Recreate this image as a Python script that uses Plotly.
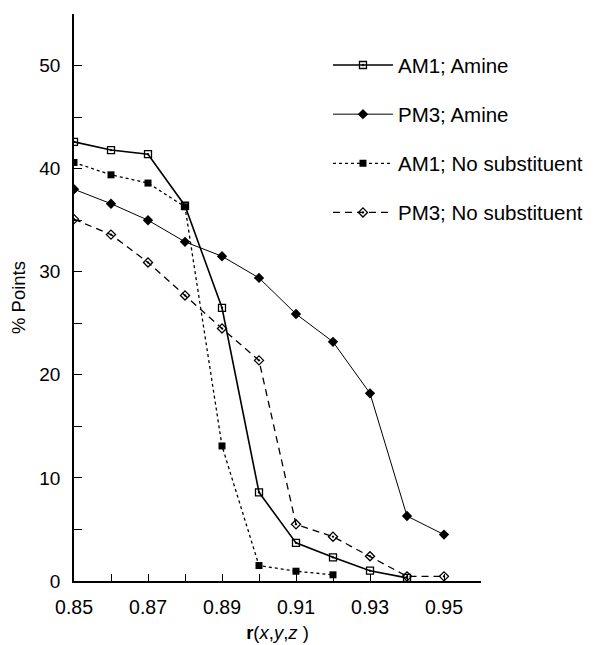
import plotly.graph_objects as go

r_vals = [0.85, 0.86, 0.87, 0.88, 0.89, 0.90, 0.91, 0.92, 0.93, 0.94, 0.95]

am1_amine = [42.6, 41.8, 41.4, 36.4, 26.5, 8.6, 3.7, 2.3, 1.0, 0.3]
pm3_amine = [38.0, 36.6, 35.0, 32.9, 31.5, 29.4, 25.9, 23.2, 18.2, 6.3, 4.5]
am1_nosub = [40.6, 39.4, 38.6, 36.3, 13.1, 1.5, 0.95, 0.6]
pm3_nosub = [35.1, 33.6, 30.9, 27.7, 24.5, 21.4, 5.5, 4.3, 2.4, 0.45, 0.45]

names = ["AM1; Amine", "PM3; Amine", "AM1; No substituent", "PM3; No substituent"]

FONT = "Liberation Sans, Arial, sans-serif"

fig = go.Figure()

fig.add_trace(go.Scatter(
    x=r_vals[:len(am1_amine)], y=am1_amine, name=names[0], legendgroup="a",
    mode="lines+markers",
    line=dict(color="black", width=1.6, dash="solid"),
    marker=dict(symbol="square-open-dot", size=7, color="black", line=dict(width=1.3)),
))
fig.add_trace(go.Scatter(
    x=r_vals[:len(pm3_amine)], y=pm3_amine, name=names[1], legendgroup="b",
    mode="lines+markers",
    line=dict(color="black", width=1.0, dash="solid"),
    marker=dict(symbol="diamond", size=8, color="black"),
))
fig.add_trace(go.Scatter(
    x=r_vals[:len(am1_nosub)], y=am1_nosub, name=names[2], legendgroup="c",
    mode="lines+markers",
    line=dict(color="black", width=1.3, dash="3px,3px"),
    marker=dict(symbol="square", size=7, color="black"),
))
fig.add_trace(go.Scatter(
    x=r_vals[:len(pm3_nosub)], y=pm3_nosub, name=names[3], legendgroup="d",
    mode="lines+markers",
    line=dict(color="black", width=1.3, dash="7px,5px"),
    marker=dict(symbol="diamond-open-dot", size=7, color="black", line=dict(width=1.3)),
))

fig.update_layout(
    width=586, height=637,
    margin=dict(l=66, r=113, t=6, b=64),
    paper_bgcolor="white", plot_bgcolor="white",
    font=dict(family=FONT, size=19, color="black"),
    showlegend=True,
    legend=dict(
        x=0.624, y=0.945, xanchor="left", yanchor="top",
        bgcolor="rgba(0,0,0,0)", font=dict(size=20.5, family=FONT),
        tracegroupgap=19.5, itemwidth=60,
    ),
    xaxis=dict(
        range=[0.85, 0.96], tick0=0.85, dtick=0.02, tickformat=".2f",
        ticks="inside", ticklen=7, tickwidth=1.3, tickcolor="black",
        minor=dict(dtick=0.01, tick0=0.85, ticks="inside", ticklen=7, tickwidth=1.3, tickcolor="black"),
        showline=True, linecolor="black", linewidth=1.6,
        showgrid=False, zeroline=False, automargin=False,
        ticklabelstandoff=8,
        title=dict(text="<b>r</b>(<i>x</i>,<i>y</i>,<i>z</i> )", standoff=9, font=dict(size=18.5)),
        tickfont=dict(size=19.5),
    ),
    yaxis=dict(
        range=[0, 55], tick0=0, dtick=10,
        ticks="inside", ticklen=8, tickwidth=1.3, tickcolor="black",
        minor=dict(dtick=5, tick0=0, ticks="inside", ticklen=8, tickwidth=1.3, tickcolor="black"),
        showline=True, linecolor="black", linewidth=1.6,
        showgrid=False, zeroline=False, automargin=False,
        ticklabelstandoff=8,
        title=dict(text="% Points", standoff=10, font=dict(size=18.5)),
        tickfont=dict(size=19),
    ),
)

fig.write_html("out.html")
